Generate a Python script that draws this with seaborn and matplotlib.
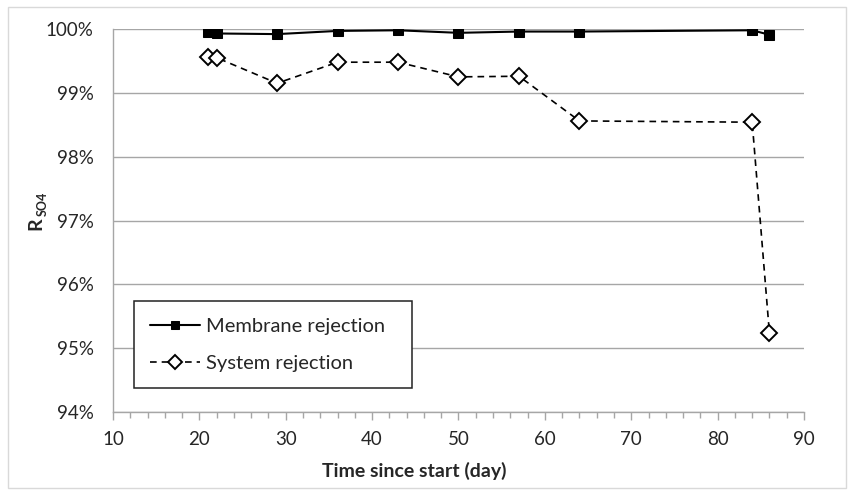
import seaborn as sns
import matplotlib.pyplot as plt
import matplotlib.ticker as mticker
from matplotlib.patches import Rectangle

# 数据
days = [21, 22, 29, 36, 43, 50, 57, 64, 84, 86]
membrane = [99.95, 99.93, 99.92, 99.97, 99.98, 99.94, 99.96, 99.96, 99.98, 99.91]
system = [99.56, 99.55, 99.15, 99.48, 99.48, 99.25, 99.26, 98.56, 98.54, 95.23]

sns.set_style('white')
plt.rcParams['font.family'] = ['Lato', 'DejaVu Sans']

fig = plt.figure(figsize=(8.53, 4.95), dpi=100)
ax = fig.add_axes([113 / 853, 1 - 412 / 495, 691 / 853, 383 / 495])

# 外框
fig.patches.append(Rectangle((8 / 853, 7 / 495), 838 / 853, 481 / 495,
                             transform=fig.transFigure, fill=False,
                             edgecolor='#d9d9d9', linewidth=1))

sns.lineplot(x=days, y=membrane, ax=ax, color='black', linewidth=1.5,
             marker='s', markersize=7, markeredgecolor='black',
             markerfacecolor='black', label='Membrane rejection')
sns.lineplot(x=days, y=system, ax=ax, color='black', linewidth=1.2,
             linestyle=(0, (4, 3)), marker='D', markersize=8,
             markeredgecolor='black', markerfacecolor='white',
             markeredgewidth=1.4, label='System rejection')

ax.set_xlim(10, 90)
ax.set_ylim(94, 100)
ax.xaxis.set_major_locator(mticker.MultipleLocator(10))
ax.xaxis.set_minor_locator(mticker.MultipleLocator(2))
ax.yaxis.set_major_locator(mticker.MultipleLocator(1))
ax.yaxis.set_major_formatter(mticker.FuncFormatter(lambda v, p: f'{v:.0f}%'))

ax.grid(axis='y', color='#a6a6a6', linewidth=1)
ax.set_axisbelow(True)
for s in ['top', 'right']:
    ax.spines[s].set_visible(False)
for s in ['left', 'bottom']:
    ax.spines[s].set_color('#a6a6a6')
    ax.spines[s].set_linewidth(1)

ax.tick_params(axis='x', which='major', direction='out', length=6, width=1,
               color='#a6a6a6', labelsize=13.5, pad=8, bottom=True)
ax.tick_params(axis='x', which='minor', direction='out', length=4, width=1,
               color='#a6a6a6', bottom=True)
ax.tick_params(axis='y', which='major', length=0, labelsize=13.5, pad=14)

ax.set_xlabel('Time since start (day)', fontsize=14, fontweight='bold')
ax.xaxis.set_label_coords((414 - 113) / 691, -0.13)

# y 轴标签：R 加下标 SO4
ax.set_ylabel('')
fig.text(36 / 853, 1 - 224 / 495, 'R', rotation=90, fontsize=14,
         fontweight='bold', ha='center', va='center')
fig.text(43 / 853, 1 - 204 / 495, 'SO4', rotation=90, fontsize=9,
         fontweight='bold', ha='center', va='center')

leg = ax.legend(loc='lower left', mode='expand',
                bbox_to_anchor=(21 / 691, 24 / 383, 278 / 691, 86 / 383),
                fontsize=14.5, frameon=True, fancybox=False, edgecolor='#222222',
                handlelength=2.5, handletextpad=0.3, borderpad=0.8,
                labelspacing=1.0, borderaxespad=0, markerscale=0.85)
leg.get_frame().set_linewidth(1.1)
leg.get_frame().set_alpha(1)

fig.savefig('out.png', dpi=100)
